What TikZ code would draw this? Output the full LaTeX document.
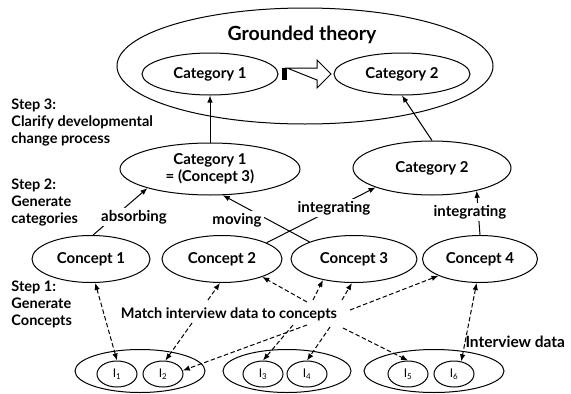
\documentclass[tikz,border=0pt]{standalone}
\usepackage{fontspec}
\setmainfont{Lato}
\usetikzlibrary{shapes,arrows.meta}

\begin{document}
\begin{tikzpicture}[x=1pt,y=-1pt,line width=1pt]
\tikzstyle{oval}=[ellipse,draw,inner sep=0pt,align=center,font=\bfseries\fontsize{15}{17}\selectfont]
\tikzstyle{item}=[ellipse,draw,inner sep=0pt,minimum width=40pt,minimum height=26pt,font=\fontsize{12}{14}\selectfont]
\tikzstyle{lbl}=[fill=white,inner sep=2.5pt,font=\bfseries\fontsize{15}{17}\selectfont]
\tikzstyle{steptext}=[anchor=west,align=left,inner sep=0pt,font=\bfseries\fontsize{14.5}{17}\selectfont]
\tikzstyle{link}=[-{Latex[length=7pt,width=5.5pt]}]
\tikzstyle{dashlink}=[-{Latex[length=7pt,width=5.5pt]},dash pattern=on 4.5pt off 2.5pt]
\tikzstyle{pair}=[{Latex[length=7pt,width=5.5pt]}-{Latex[length=7pt,width=5.5pt]},dash pattern=on 4.5pt off 2.5pt]
\useasboundingbox (0,0) rectangle (571,394);

% step 3
\node[oval,minimum width=376pt,minimum height=116pt] (theory) at (305,66) {};
\node[font=\bfseries\fontsize{19.5}{22}\selectfont] (title) at (302,35) {Grounded theory};
\node[oval,minimum width=136pt,minimum height=42pt] (cat1t) at (210,74) {Category 1};
\node[oval,minimum width=136pt,minimum height=42pt] (cat2t) at (402,74) {Category 2};
\fill (282,68) rectangle (287,80);
\draw (287,68) -- (317,68) -- (317,60) -- (331,74) -- (317,88) -- (317,80) -- cycle;

% step 2
\node[oval,minimum width=180pt,minimum height=52pt] (cat1m) at (210,169) {Category 1\\= (Concept 3)};
\node[oval,minimum width=158pt,minimum height=54pt] (cat2m) at (432,168) {Category 2};

% step 1
\node[oval,minimum width=118pt,minimum height=47pt] (c1) at (91,259) {Concept 1};
\node[oval,minimum width=120pt,minimum height=47pt] (c2) at (222,259) {Concept 2};
\node[oval,minimum width=126pt,minimum height=47pt] (c3) at (354,259) {Concept 3};
\node[oval,minimum width=115pt,minimum height=47pt] (c4) at (480,259) {Concept 4};

% interview data
\node[ellipse,draw,minimum width=130pt,minimum height=43pt] (d1) at (140,371) {};
\node[ellipse,draw,minimum width=128pt,minimum height=43pt] (d2) at (287,371) {};
\node[ellipse,draw,minimum width=140pt,minimum height=43pt] (d3) at (434,371) {};
\node[item] (i1) at (117,374) {I\textsubscript{1}};
\node[item] (i2) at (163,374) {I\textsubscript{2}};
\node[item] (i3) at (263,374) {I\textsubscript{3}};
\node[item] (i4) at (307,374) {I\textsubscript{4}};
\node[item] (i5) at (408,374) {I\textsubscript{5}};
\node[item] (i6) at (454,374) {I\textsubscript{6}};

\node[steptext] (step3) at (11,123) {Step 3:\\Clarify developmental\\change process};
\node[steptext] (step2) at (11,203) {Step 2:\\Generate\\categories};
\node[steptext] (step1) at (11,304) {Step 1:\\Generate\\Concepts};
\node[anchor=west,inner sep=0pt,font=\bfseries\fontsize{15.5}{17}\selectfont] (datalabel) at (465,342) {Interview data};
\node[inner sep=2pt,font=\bfseries\fontsize{14.5}{17}\selectfont] (match) at (229,314) {Match interview data to concepts};

\draw[link] (cat1m) -- (cat1t);
\draw[link] (cat2m.north) -- (cat2t.south);
\draw[link] (c1.85) -- (cat1m.197);
\draw[link] (c3.159) -- (cat1m.296);
\draw[link] (c2.20) -- (cat2m.199);
\draw[link] (c4.north) -- (cat2m.333);
\node[lbl] (absorb) at (134,217) {absorbing};
\node[lbl] (move) at (237,220) {moving};
\node[lbl] (integ1) at (334,208) {integrating};
\node[lbl] (integ2) at (470,212) {integrating};

\draw[pair] (c1.280) -- (i1.north);
\draw[pair] (c4.262) -- (i6.60);
\draw[dashlink] ([shift={(-21,-14)}]match.center) -- (c2.265);
\draw[dashlink] ([shift={(78,-12)}]match.center) -- (c2.336);
\draw[dashlink] ([shift={(84,-14)}]match.center) -- (c3.214);
\draw[dashlink] ([shift={(113,-14)}]match.center) -- (c3.265);
\draw[dashlink] ([shift={(121,-4)}]match.center) -- (c4.202);
\draw[dashlink] ([shift={(-37,9)}]match.center) -- (i2.80);
\draw[dashlink] ([shift={(78,11)}]match.center) -- (i2.10);
\draw[dashlink] ([shift={(64,11)}]match.center) -- (i3.north);
\draw[dashlink] ([shift={(101,13)}]match.center) -- (i4.north);
\draw[dashlink] ([shift={(114,14)}]match.center) -- (i5.north);
\end{tikzpicture}
\end{document}
